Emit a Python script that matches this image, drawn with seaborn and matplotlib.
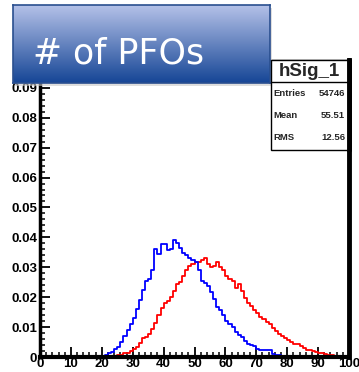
import numpy as np
import pandas as pd
import seaborn as sns
import matplotlib
matplotlib.use("Agg")
import matplotlib.pyplot as plt
from matplotlib.patches import Rectangle
from matplotlib.ticker import MultipleLocator

# ---- data: per-bin fractions, bins of width 1 from 0 to 100 ----
bin_edges = list(range(0, 101))
blue_vals = ([0.0] * 20 + [
    0.0003, 0.0007, 0.0012, 0.0018, 0.0026, 0.0035, 0.0050, 0.0070, 0.0090, 0.0110,   # 20-29
    0.0130, 0.0160, 0.0190, 0.0225, 0.0255, 0.0262, 0.0290, 0.0362, 0.0345, 0.0378,   # 30-39
    0.0378, 0.0358, 0.0360, 0.0392, 0.0380, 0.0365, 0.0348, 0.0340, 0.0332, 0.0325,   # 40-49
    0.0318, 0.0290, 0.0255, 0.0248, 0.0238, 0.0218, 0.0195, 0.0168, 0.0158, 0.0140,   # 50-59
    0.0120, 0.0112, 0.0100, 0.0085, 0.0075, 0.0068, 0.0052, 0.0045, 0.0040, 0.0036,   # 60-69
    0.0026, 0.0024, 0.0023, 0.0022, 0.0022, 0.0010, 0.0008, 0.0006, 0.0005, 0.0004,   # 70-79
    0.0004, 0.0003, 0.0003, 0.0002, 0.0002, 0.0002, 0.0001, 0.0001, 0.0001, 0.0001,   # 80-89
    0.0001, 0.0001, 0.0, 0.0, 0.0, 0.0, 0.0, 0.0, 0.0, 0.0])                          # 90-99
red_vals = ([0.0] * 22 + [
    0.0003, 0.0004, 0.0005, 0.0006, 0.0008, 0.0012, 0.0015, 0.0020,                   # 22-29
    0.0028, 0.0035, 0.0048, 0.0062, 0.0068, 0.0078, 0.0095, 0.0115, 0.0140, 0.0165,   # 30-39
    0.0180, 0.0188, 0.0200, 0.0222, 0.0245, 0.0252, 0.0270, 0.0290, 0.0305, 0.0312,   # 40-49
    0.0318, 0.0318, 0.0325, 0.0330, 0.0312, 0.0300, 0.0305, 0.0318, 0.0300, 0.0292,   # 50-59
    0.0270, 0.0262, 0.0255, 0.0230, 0.0245, 0.0220, 0.0198, 0.0180, 0.0170, 0.0158,   # 60-69
    0.0148, 0.0135, 0.0128, 0.0118, 0.0110, 0.0098, 0.0088, 0.0078, 0.0070, 0.0065,   # 70-79
    0.0058, 0.0050, 0.0045, 0.0042, 0.0038, 0.0030, 0.0025, 0.0022, 0.0020, 0.0016,   # 80-89
    0.0014, 0.0012, 0.0010, 0.0008, 0.0007, 0.0004, 0.0002, 0.0002, 0.0002, 0.0002])  # 90-99

x_ticks = [0, 10, 20, 30, 40, 50, 60, 70, 80, 90, 100]
x_tick_labels = ["0", "10", "20", "30", "40", "50", "60", "70", "80", "90", "100"]
y_ticks = [0, 0.01, 0.02, 0.03, 0.04, 0.05, 0.06, 0.07, 0.08, 0.09]
y_tick_labels = ["0", "0.01", "0.02", "0.03", "0.04", "0.05", "0.06", "0.07", "0.08", "0.09"]

title_text = "# of PFOs"
stat_title = "hSig_1"
stat_names = ["Entries", "Mean", "RMS"]
stat_values = ["54746", "55.51", "12.56"]

centers = [e + 0.5 for e in bin_edges[:-1]]
df = pd.DataFrame({
    "x": centers * 2,
    "w": red_vals + blue_vals,
    "series": ["red"] * 100 + ["blue"] * 100,
})

sns.set_style("white")
plt.rcParams['font.family'] = ['Liberation Sans', 'DejaVu Sans']

W, H = 359, 372
fig = plt.figure(figsize=(W / 100, H / 100), dpi=100)
ax = fig.add_axes([40 / W, 1 - 357 / H, (349 - 40) / W, (357 - 60) / H])

for name, color in [("red", "#ff0000"), ("blue", "#0000ff")]:
    sub = df[df["series"] == name]
    sns.histplot(data=sub, x="x", weights="w", bins=bin_edges, element="step",
                 fill=False, color=color, linewidth=1.3, ax=ax, stat="count")

ax.set_xlim(0, 100)
ax.set_ylim(0, 0.0993)
ax.set_xlabel("")
ax.set_ylabel("")
ax.set_xticks(x_ticks)
ax.set_xticklabels(x_tick_labels)
ax.set_yticks(y_ticks)
ax.set_yticklabels(y_tick_labels)
ax.xaxis.set_minor_locator(MultipleLocator(2))
ax.yaxis.set_minor_locator(MultipleLocator(0.002))
ax.tick_params(axis="x", which="both", bottom=True, top=False)
ax.tick_params(axis="y", which="both", left=True, right=False)
ax.tick_params(axis="both", which="major", direction="in", length=7, width=1.3,
               labelsize=9.5, pad=2, colors="black")
ax.tick_params(axis="both", which="minor", direction="in", length=3.5, width=1.1,
               colors="black")
for lab in ax.get_xticklabels() + ax.get_yticklabels():
    lab.set_fontweight("bold")
ax.tick_params(axis="x", pad=1)
for side, lw in [("left", 2.5), ("bottom", 3.0), ("right", 3.5), ("top", 1.0)]:
    ax.spines[side].set_visible(True)
    ax.spines[side].set_color("black")
    ax.spines[side].set_linewidth(lw)

# ---- stats box ----
bx0, bx1, by0, by1 = 271 / W, 348 / W, 1 - 150 / H, 1 - 60 / H
fig.patches.append(Rectangle((bx0, by0), bx1 - bx0, by1 - by0,
                             transform=fig.transFigure, facecolor="white",
                             edgecolor="black", linewidth=1.0, zorder=6))
fig.add_artist(plt.Line2D([bx0, bx1], [1 - 82 / H, 1 - 82 / H],
                          transform=fig.transFigure, color="black", lw=1.0, zorder=7))
fig.add_artist(plt.Line2D([349 / W, 349 / W], [by0, by1],
                          transform=fig.transFigure, color="black", lw=3.5, zorder=7))
fig.text((bx0 + bx1) / 2, 1 - 71 / H, stat_title, ha="center", va="center",
         fontsize=13.5, fontweight="bold", zorder=8)
for i, (n, v) in enumerate(zip(stat_names, stat_values)):
    yy = 1 - (94 + 22 * i) / H
    fig.text(bx0 + 2 / W, yy, n, ha="left", va="center", fontsize=6.8,
             fontweight="bold", zorder=8)
    fig.text(bx1 - 3 / W, yy, v, ha="right", va="center", fontsize=6.8,
             fontweight="bold", zorder=8)

# ---- title banner ----
tx0, tx1, ty0, ty1 = 13 / W, 270 / W, 1 - 83 / H, 1 - 5 / H
sh = fig.add_axes([tx0 + 2 / W, ty0 - 3 / H, tx1 - tx0, ty1 - ty0])
sh.set_facecolor("#c8c8c8")
sh.set_xticks([]); sh.set_yticks([])
for s in sh.spines.values():
    s.set_visible(False)
sh.patch.set_alpha(0.6)
tax = fig.add_axes([tx0, ty0, tx1 - tx0, ty1 - ty0])
top_c = np.array([180, 193, 232]) / 255
bot_c = np.array([22, 70, 150]) / 255
t = np.linspace(0, 1, 100)[:, None]
grad = top_c[None, :] * (1 - t) + bot_c[None, :] * t
tax.imshow(grad[:, None, :].repeat(2, axis=1), aspect="auto", extent=[0, 1, 0, 1],
           origin="upper")
tax.set_xlim(0, 1); tax.set_ylim(0, 1)
tax.set_xticks([]); tax.set_yticks([])
for s in tax.spines.values():
    s.set_color("#2a4f8f")
    s.set_linewidth(1.2)
tax.text(20 / 257, 0.38, title_text, color="white", fontsize=25,
         family=["DejaVu Sans"], ha="left", va="center")

fig.savefig("out.png", dpi=100)
